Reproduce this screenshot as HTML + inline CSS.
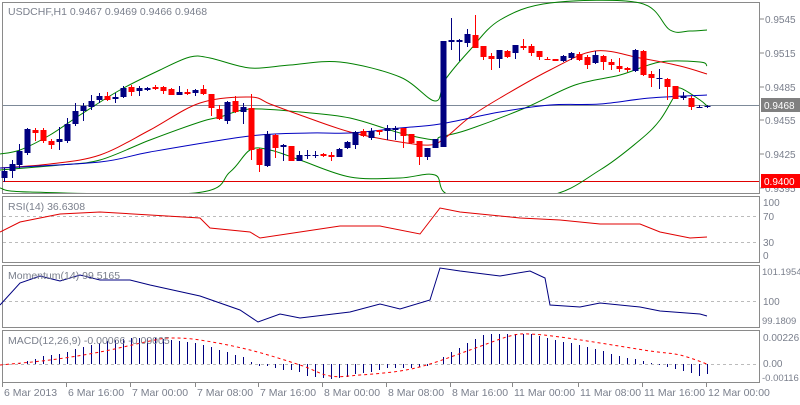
<!DOCTYPE html>
<html><head><meta charset="utf-8">
<style>
body{margin:0;background:#fff;}
svg text{font-family:"Liberation Sans",sans-serif;font-size:10.5px;fill:#7a7f8c;}
svg text.r{font-size:10px;}
svg text.q{font-size:9.5px;}
</style></head>
<body>
<svg id="s" width="800" height="400" xmlns="http://www.w3.org/2000/svg"></svg>
<script>
const s=document.getElementById('s');
let h='';
function sm(pts){const p=pts.split(' ').map(q=>q.split(',').map(Number));let d='M'+p[0][0]+','+p[0][1];for(let i=0;i<p.length-1;i++){const p0=p[i-1]||p[i],p1=p[i],p2=p[i+1],p3=p[i+2]||p2;const c1x=p1[0]+(p2[0]-p0[0])/6,c1y=p1[1]+(p2[1]-p0[1])/6,c2x=p2[0]-(p3[0]-p1[0])/6,c2y=p2[1]-(p3[1]-p1[1])/6;d+=` C${c1x},${c1y} ${c2x},${c2y} ${p2[0]},${p2[1]}`;}return d;}
function pl(pts,c,w,dash){h+=`<polyline points="${pts}" fill="none" stroke="${c}" stroke-width="${w||1}" ${dash?'stroke-dasharray="'+dash+'"':''}/>`;}
function cv(pts,c,w,dash){h+=`<path d="${sm(pts)}" fill="none" stroke="${c}" stroke-width="${w||1}" ${dash?'stroke-dasharray="'+dash+'"':''}/>`;}
function ln(x1,y1,x2,y2,c,w,d){h+=`<line x1="${x1}" y1="${y1}" x2="${x2}" y2="${y2}" stroke="${c}" stroke-width="${w||1}" ${d?'stroke-dasharray="'+d+'"':''}/>`;}
function tx(x,y,t,f,cl){h+=`<text x="${x}" y="${y}" ${cl?'class="'+cl+'"':''} ${f?'style="fill:'+f+'"':''}>${t}</text>`;}
const P=[[2,2,193],[2,196,262],[2,265,327],[2,330,382]];
P.forEach(p=>{h+=`<rect x="2.5" y="${p[1]+.5}" width="757" height="${p[2]-p[1]}" fill="none" stroke="#8a8a8a"/>`;});
h+='<svg x="0" y="0" width="760" height="193">';
ln(3,105.5,759,105.5,'#7d8a99',1);
ln(3,181.5,759,181.5,'#e00000',1);
cv("0,154 20,150 50,135 80,115 120,90 160,70 190,57 210,58 250,68 290,65 340,62 400,77 435,101 445,80 470,50 500,20 550,3 640,3 670,30 690,31 707,30",'#008000');
cv("0,170 60,165 100,160 150,140 200,122 220,117 250,109 300,112 350,118 400,133 435,140 440,137 467,130 525,108 575,85 620,75 660,62 700,62 707,66",'#008000');
cv("0,188 30,192 195,193 230,172 250,150 270,150 300,160 350,177 400,178 435,175 453,196 547,196 600,170 640,140 660,120 675,95 680,88 700,100 707,106",'#008000');
cv("0,168 50,164 100,155 150,130 200,103 250,97 270,104 300,115 350,132 400,142 430,145 445,138 470,117 500,98 550,70 595,51 640,58 680,66 707,74",'#e00000');
cv("0,168 100,162 150,152 250,136 310,133 350,133 400,128 440,124 500,112 550,105 600,104 650,98 707,95",'#0000c0');
const C=[[4,171,178,'b',168,182],[12,164,171,'b',160,178],[19,151,165,'b',144,168],[27,129,153,'b',128,155],[35,130,133,'r',128,141],[43,130,141,'r',128,143],[51,141,145,'r',139,149],[59,139,142,'b',127,150],[67,124,141,'b',118,143],[75,111,124,'b',103,126],[83,106,111,'b',103,121],[91,101,107,'b',95,110],[99,96,100,'b',93,103],[107,96,100,'r',92,101],[115,97,99,'b',93,103],[123,88,97,'b',86,98],[131,87,92,'r',85,96],[139,88,91,'b',86,96],[147,88,90,'b',87,91],[155,87,89,'r',85,90],[163,87,91,'r',86,94],[171,89,95,'r',88,95],[179,92,95,'b',86,95],[187,92,94,'r',89,95],[195,90,93,'b',89,96],[203,89,94,'r',85,95],[211,94,108,'r',94,116],[219,109,119,'r',105,120],[227,102,121,'b',101,124],[235,101,112,'r',96,113],[243,107,112,'b',103,124],[251,108,150,'r',94,160],[259,149,165,'r',148,172],[267,134,166,'b',131,167],[275,135,148,'r',134,158],[283,145,147,'b',144,161],[291,146,161,'r',146,161],[299,155,161,'b',151,161],[307,155,156,'b',150,159],[315,155,156,'b',151,158],[323,154,156,'r',153,157],[331,155,157,'r',152,161],[339,149,157,'b',148,157],[347,142,148,'b',141,149],[355,132,145,'b',131,149],[363,131,136,'r',129,137],[371,131,138,'b',128,140],[379,130,132,'r',130,135],[387,128,131,'b',125,140],[395,128,130,'b',126,140],[403,128,136,'r',128,148],[411,134,143,'r',134,144],[419,141,157,'r',141,165],[427,148,157,'b',148,160],[435,139,148,'b',139,147],[443,41,147,'b',41,147],[451,40,42,'b',18,50],[459,40,42,'b',39,61],[467,34,43,'b',29,47],[475,35,48,'r',15,48],[483,46,57,'r',46,60],[491,56,59,'r',53,70],[499,50,59,'b',50,68],[507,51,57,'r',50,58],[515,45,53,'b',45,59],[523,46,48,'r',39,50],[531,46,53,'r',44,56],[539,51,57,'r',51,60],[547,59,60,'r',57,60],[555,59,61,'r',59,61],[563,56,61,'b',55,62],[571,53,58,'b',52,60],[579,54,60,'r',52,61],[587,57,65,'r',55,69],[595,55,63,'b',51,64],[603,56,62,'r',55,70],[611,62,65,'r',59,70],[619,66,69,'r',58,72],[627,68,70,'r',67,72],[635,50,71,'b',49,72],[643,51,75,'r',50,76],[651,74,78,'r',71,87],[659,78,79,'b',69,89],[667,79,87,'r',78,100],[675,86,99,'r',86,99],[683,96,98,'b',92,100],[691,98,107,'r',96,110],[699,107,108,'b',105,108],[707,106,107,'b',105,108]];
C.forEach(c=>{const col=c[3]=='b'?'#000080':'#ff0000';ln(c[0]+.5,c[4],c[0]+.5,c[5],col,1);h+=`<rect x="${c[0]-2.5}" y="${c[1]}" width="6" height="${Math.max(1,c[2]-c[1])}" fill="${col}"/>`;});
h+='</svg>';
ln(3,216.5,759,216.5,'#bbb',1,'3,3');ln(3,242.5,759,242.5,'#bbb',1,'3,3');
pl("0,232 20,222 60,214 100,212 150,215 200,218 210,228 250,232 260,238 300,232 340,226 380,226 420,234 440,208 460,212 520,218 560,220 600,224 640,224 660,232 690,238 707,237",'#e00000');
ln(3,301.5,759,301.5,'#bbb',1,'3,3');
pl("0,305 20,283 40,276 60,281 80,275 100,280 130,280 150,285 200,296 240,310 258,322 280,314 300,318 350,312 380,304 400,309 430,300 440,268 460,271 500,276 530,271 545,278 550,305 580,307 600,303 640,307 660,311 700,314 707,316",'#000080');
ln(3,364.5,759,364.5,'#bbb',1,'3,3');
const M=[[4,364],[12,364],[19,363],[27,361],[35,359],[43,356],[51,355],[59,354],[67,352],[75,349],[83,347],[91,345],[99,343],[107,341],[115,340],[123,339],[131,338],[139,338],[147,338],[155,338],[163,339],[171,340],[179,341],[187,342],[195,343],[203,345],[211,347],[219,350],[227,352],[235,355],[243,357],[251,362],[259,366],[267,366],[275,368],[283,370],[291,370],[299,372],[307,376],[315,377],[323,378],[331,379],[339,378],[347,377],[355,374],[363,373],[371,372],[379,370],[387,368],[395,368],[403,368],[411,368],[419,367],[427,366],[435,364],[443,357],[451,352],[459,348],[467,343],[475,339],[483,335],[491,334],[499,334],[507,334],[515,334],[523,334],[531,334],[539,336],[547,338],[555,340],[563,342],[571,343],[579,345],[587,347],[595,349],[603,351],[611,354],[619,356],[627,358],[635,359],[643,361],[651,363],[659,365],[667,367],[675,369],[683,371],[691,373],[699,376],[707,374]];
M.forEach(m=>ln(m[0]+.5,364,m[0]+.5,m[1],'#000080',1));
cv("0,365 50,360 100,352 150,341 170,338 200,340 250,350 300,365 330,376 360,375 400,371 430,364 470,350 510,336 530,334 560,337 600,343 650,351 680,355 707,364",'#ff0000',1,'3,3');
tx(8,15,'USDCHF,H1  0.9467 0.9469 0.9466 0.9468');
tx(8,210,'RSI(14) 36.6308');tx(8,279,'Momentum(14) 99.5165');tx(8,344,'MACD(12,26,9) -0.00066 -0.00005');
[[19,'0.9545'],[53,'0.9515'],[87,'0.9485'],[120,'0.9455'],[154,'0.9425'],[188,'0.9395']].forEach(a=>{ln(760,a[0],764,a[0],'#888');tx(765,a[0]+4,a[1],0,'r');});
h+='<rect x="761" y="98" width="39" height="14" fill="#808080"/>';tx(764,109,'0.9468','#fff','r');
h+='<rect x="761" y="174" width="39" height="14" fill="#ff0000"/>';tx(764,185,'0.9400','#fff','r');
[[202,'100'],[216,'70'],[242,'30'],[255,'0'],[301,'100'],[337,'0.00226'],[363,'0.00']].forEach(a=>tx(763,a[0]+4,a[1],0,'r'));
[[271,'101.1954'],[320,'99.1809'],[377,'-0.00116']].forEach(a=>tx(762,a[0]+4,a[1],0,'q'));
[[2,'6 Mar 2013'],[66,'6 Mar 16:00'],[130,'7 Mar 00:00'],[195,'7 Mar 08:00'],[258,'7 Mar 16:00'],[322,'8 Mar 00:00'],[386,'8 Mar 08:00'],[450,'8 Mar 16:00'],[512,'11 Mar 00:00'],[578,'11 Mar 08:00'],[642,'11 Mar 16:00'],[706,'12 Mar 00:00']].forEach(a=>{ln(a[0]+.5,383,a[0]+.5,387,'#888');tx(a[0]+2,396,a[1]);});
s.innerHTML=h;
</script>
</body></html>
